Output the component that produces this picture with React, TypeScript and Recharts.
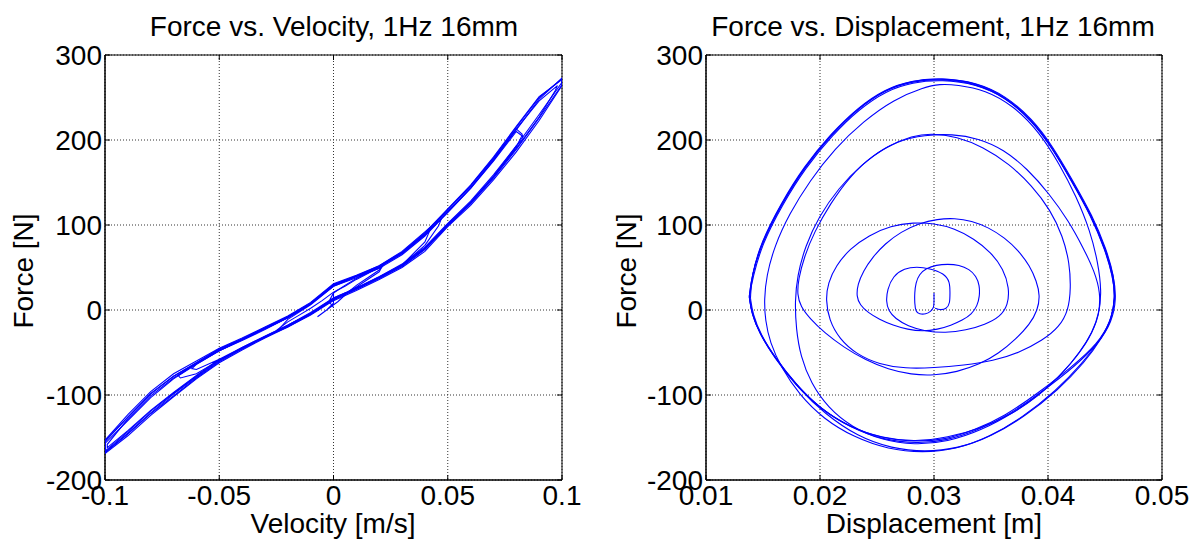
import React from 'react';
import { ScatterChart, Scatter, XAxis, YAxis, CartesianGrid, ReferenceArea } from 'recharts';

type P = [number, number];

// ---------- axes ----------
const VEL_TICKS = [-0.1, -0.05, 0, 0.05, 0.1];
const DISP_TICKS = [0.01, 0.02, 0.03, 0.04, 0.05];
const FORCE_TICKS = [-200, -100, 0, 100, 200, 300];

// ---------- Force vs. Velocity : [velocity m/s, force N] ----------
const FV_RAMP_UP: P[] = [
  [0, 20], [0, 8], [-0.003, 0], [-0.007, -8], [-0.006, -6], [-0.002, 2], [0.002, 10], [0.006, 20], [0.01, 29], [0.015, 38], [0.02, 47], [0.022, 53],
  [0.02, 50], [0.015, 43], [0.01, 36], [0.005, 28], [0, 21], [-0.005, 11], [-0.01, 2], [-0.015, -6], [-0.02, -14], [-0.025, -24],
  [-0.023, -23], [-0.02, -18], [-0.01, -4], [0, 12], [0.01, 25], [0.02, 38], [0.03, 53], [0.04, 76], [0.046, 99], [0.047, 106],
  [0.044, 101], [0.04, 89], [0.03, 67], [0.02, 51], [0.01, 40], [0, 29], [-0.01, 8], [-0.02, -9], [-0.03, -22], [-0.04, -35], [-0.05, -48], [-0.06, -63], [-0.068, -77],
  [-0.067, -80], [-0.06, -75], [-0.05, -59], [-0.04, -45], [-0.03, -32], [-0.02, -19], [-0.01, -5], [0, 13], [0.01, 25], [0.02, 38], [0.03, 52], [0.04, 72], [0.05, 100], [0.06, 126], [0.07, 157], [0.08, 193], [0.083, 201], [0.0825, 207],
  [0.08, 213], [0.07, 178], [0.06, 146], [0.05, 118], [0.04, 90], [0.03, 67], [0.02, 51], [0.01, 40], [0, 30], [-0.01, 8], [-0.02, -8], [-0.03, -21], [-0.04, -34], [-0.05, -46], [-0.06, -62], [-0.07, -78], [-0.08, -98], [-0.09, -126], [-0.1, -155],
];
const FV_STEADY_1: P[] = [
  [-0.1, -155], [-0.1, -168], [-0.09, -146], [-0.08, -122], [-0.07, -101], [-0.06, -80], [-0.05, -61], [-0.04, -46], [-0.03, -32], [-0.02, -19], [-0.01, -5], [0, 12], [0.01, 24], [0.02, 37], [0.03, 51], [0.04, 71], [0.05, 99], [0.06, 125], [0.07, 155], [0.08, 189], [0.09, 226], [0.1, 265],
  [0.1, 272], [0.09, 250], [0.08, 215], [0.07, 179], [0.06, 146], [0.05, 118], [0.04, 89], [0.03, 67], [0.02, 51], [0.01, 40], [0, 30], [-0.01, 8], [-0.02, -8], [-0.03, -21], [-0.04, -34], [-0.05, -46], [-0.06, -62], [-0.07, -78], [-0.08, -99], [-0.09, -126], [-0.1, -154],
];
const FV_STEADY_2: P[] = [
  [-0.1, -154], [-0.1, -166], [-0.09, -143], [-0.08, -119], [-0.07, -98], [-0.06, -78], [-0.05, -59], [-0.04, -44], [-0.03, -31], [-0.02, -18], [-0.01, -3], [0, 14], [0.01, 26], [0.02, 39], [0.03, 54], [0.04, 74], [0.05, 102], [0.06, 128], [0.07, 159], [0.08, 193], [0.09, 230], [0.1, 268],
  [0.1, 273], [0.09, 248], [0.08, 212], [0.07, 176], [0.06, 143], [0.05, 115], [0.04, 87], [0.03, 65], [0.02, 49], [0.01, 38], [0, 28], [-0.01, 7], [-0.02, -9], [-0.03, -23], [-0.04, -36], [-0.05, -48], [-0.06, -64], [-0.07, -81], [-0.08, -103], [-0.09, -130], [-0.1, -157],
];
const FV_STEADY_3: P[] = [
  [-0.1, -157], [-0.1, -169], [-0.09, -148], [-0.08, -124], [-0.07, -102], [-0.06, -81], [-0.05, -62], [-0.04, -47], [-0.03, -33], [-0.02, -20], [-0.01, -6], [0, 11], [0.01, 23], [0.02, 36], [0.03, 50], [0.04, 69], [0.05, 98], [0.06, 123], [0.07, 153], [0.08, 186], [0.09, 223], [0.1, 264],
  [0.1, 271], [0.09, 251], [0.08, 216], [0.07, 180], [0.06, 147], [0.05, 119], [0.04, 91], [0.03, 68], [0.02, 52], [0.01, 41], [0, 31], [-0.01, 9], [-0.02, -7], [-0.03, -20], [-0.04, -33], [-0.05, -45], [-0.06, -60], [-0.07, -75], [-0.08, -96], [-0.09, -123], [-0.1, -153],
];
const FV_RAMP_DOWN: P[] = [
  [-0.1, -153], [-0.1, -167], [-0.09, -145], [-0.08, -121], [-0.07, -99], [-0.06, -79], [-0.05, -60], [-0.04, -45], [-0.03, -32], [-0.02, -19], [-0.01, -4], [0, 13], [0.01, 25], [0.02, 38], [0.03, 52], [0.04, 72], [0.05, 100], [0.06, 126], [0.07, 156], [0.08, 190], [0.09, 227], [0.097, 258], [0.098, 264],
  [0.09, 246], [0.08, 213], [0.07, 177], [0.06, 144], [0.05, 116], [0.04, 88], [0.03, 66], [0.02, 50], [0.01, 39], [0, 29], [-0.01, 7], [-0.02, -9], [-0.03, -22], [-0.04, -35], [-0.05, -47], [-0.06, -63], [-0.07, -80], [-0.08, -101], [-0.09, -128], [-0.099, -158], [-0.099, -162],
  [-0.09, -142], [-0.08, -118], [-0.07, -97], [-0.06, -77], [-0.05, -58], [-0.04, -44], [-0.03, -31], [-0.02, -18], [-0.01, -4], [0, 14], [0.01, 26], [0.02, 39], [0.03, 53], [0.04, 73], [0.05, 101], [0.06, 127], [0.07, 157], [0.08, 192], [0.0825, 205],
  [0.08, 210], [0.07, 175], [0.06, 143], [0.05, 115], [0.04, 88], [0.03, 66], [0.02, 50], [0.01, 39], [0, 28], [-0.01, 7], [-0.02, -9], [-0.03, -22], [-0.04, -35], [-0.05, -48], [-0.06, -64], [-0.062, -69],
  [-0.06, -70], [-0.05, -58], [-0.04, -44], [-0.03, -31], [-0.02, -18], [-0.01, -4], [0, 13], [0.01, 25], [0.02, 38], [0.03, 53], [0.04, 80], [0.043, 99],
  [0.04, 92], [0.03, 69], [0.02, 52], [0.01, 40], [0, 28], [-0.01, 6], [-0.02, -11], [-0.025, -26],
  [-0.02, -20], [-0.01, -5], [0, 12], [0.01, 27], [0.02, 45], [0.021, 50],
  [0.015, 44], [0.01, 37], [0.005, 29], [0, 20], [-0.002, 10], [0, 3],
];

// ---------- Force vs. Displacement : [displacement m, force N] ----------
const FD_RAMP_UP: P[] = [
  [0.0300, 20], [0.0300, 10], [0.0300, 3], [0.0297, -2], [0.0293, -5], [0.0287, -5], [0.0284, -2], [0.0283, 8], [0.0283, 20], [0.0284, 32], [0.0287, 42], [0.0293, 49], [0.0302, 53], [0.0312, 54], [0.0322, 53], [0.0331, 48], [0.0337, 40], [0.0340, 29], [0.0340, 16], [0.0338, 5], [0.0333, -5],
  [0.0325, -12], [0.0315, -18], [0.0303, -23], [0.0290, -25], [0.0277, -23], [0.0264, -18], [0.0252, -11], [0.0242, -3], [0.0235, 6], [0.0232, 16],
  [0.0233, 30], [0.0238, 46], [0.0246, 62], [0.0257, 78], [0.0271, 92], [0.0287, 102], [0.0303, 107], [0.0318, 108], [0.0333, 105], [0.0348, 97], [0.0362, 85], [0.0374, 70], [0.0384, 52], [0.0390, 34], [0.0393, 17], [0.0391, 0],
  [0.0384, -17], [0.0372, -34], [0.0357, -51], [0.0340, -64], [0.0320, -73], [0.0300, -77], [0.0280, -76], [0.0260, -70], [0.0240, -59], [0.0221, -44], [0.0204, -27], [0.0191, -10], [0.0183, 4], [0.0180, 18],
  [0.0181, 36], [0.0186, 62], [0.0195, 92], [0.0209, 125], [0.0226, 157], [0.0246, 182], [0.0268, 199], [0.0292, 206], [0.0316, 207], [0.0339, 202], [0.0361, 189], [0.0382, 166], [0.0401, 137], [0.0418, 105], [0.0431, 73], [0.0441, 45], [0.0446, 20], [0.0445, -4],
  [0.0439, -26], [0.0428, -50], [0.0412, -76], [0.0392, -101], [0.0368, -123], [0.0340, -140], [0.0312, -150], [0.0284, -155], [0.0255, -151], [0.0226, -138], [0.0200, -116], [0.0178, -88], [0.0160, -56], [0.0147, -28], [0.0140, -4], [0.0138, 16],
];
const FD_STEADY_1: P[] = [
  [0.0138, 16], [0.0140, 39], [0.0148, 78], [0.0166, 125], [0.0186, 168], [0.0210, 207], [0.0233, 237], [0.0257, 259], [0.0280, 269], [0.0306, 272], [0.0336, 267], [0.0362, 251], [0.0385, 224], [0.0403, 192], [0.0420, 153], [0.0438, 110], [0.0450, 71], [0.0457, 39], [0.0459, 14],
  [0.0455, -14], [0.0444, -39], [0.0421, -67], [0.0391, -98], [0.0362, -125], [0.0336, -141], [0.0309, -153], [0.0283, -155], [0.0254, -151], [0.0225, -137], [0.0198, -114], [0.0178, -86], [0.0160, -55], [0.0147, -28], [0.0140, -4], [0.0138, 16],
];
const FD_STEADY_2: P[] = [
  [0.0138, 16], [0.0140, 40], [0.0149, 79], [0.0167, 126], [0.0187, 169], [0.0211, 208], [0.0234, 238], [0.0258, 260], [0.0281, 270], [0.0307, 273], [0.0337, 268], [0.0363, 252], [0.0386, 225], [0.0404, 193], [0.0421, 154], [0.0439, 111], [0.0451, 72], [0.0458, 40], [0.0459, 14],
  [0.0456, -10], [0.0448, -32], [0.0432, -62], [0.0409, -94], [0.0380, -125], [0.0350, -149], [0.0321, -163], [0.0292, -167], [0.0263, -163], [0.0233, -149], [0.0204, -122], [0.0181, -92], [0.0162, -59], [0.0148, -30], [0.0140, -5], [0.0138, 15],
];
const FD_STEADY_3: P[] = [
  [0.0138, 15], [0.0141, 38], [0.0149, 77], [0.0167, 124], [0.0187, 167], [0.0211, 206], [0.0234, 236], [0.0258, 258], [0.0281, 268], [0.0307, 271], [0.0337, 266], [0.0363, 250], [0.0386, 223], [0.0404, 191], [0.0421, 152], [0.0439, 109], [0.0451, 70], [0.0458, 38], [0.0460, 13],
  [0.0456, -14], [0.0445, -38], [0.0424, -66], [0.0394, -97], [0.0365, -124], [0.0338, -142], [0.0310, -154], [0.0285, -157], [0.0256, -153], [0.0227, -139], [0.0200, -116], [0.0179, -88], [0.0161, -57], [0.0148, -29], [0.0141, -5], [0.0139, 14],
];
const FD_RAMP_DOWN: P[] = [
  [0.0139, 14], [0.0140, 40], [0.0148, 79], [0.0166, 126], [0.0186, 169], [0.0210, 208], [0.0233, 238], [0.0257, 260], [0.0280, 270], [0.0306, 273], [0.0336, 268], [0.0362, 252], [0.0385, 225], [0.0403, 193], [0.0420, 154], [0.0438, 111], [0.0450, 72], [0.0457, 40], [0.0459, 14],
  [0.0456, -10], [0.0447, -33], [0.0430, -63], [0.0407, -95], [0.0378, -126], [0.0348, -150], [0.0319, -164], [0.0290, -168], [0.0260, -164], [0.0230, -150], [0.0203, -128], [0.0182, -100], [0.0166, -68], [0.0156, -38], [0.0152, -12], [0.0151, 12],
  [0.0153, 40], [0.0160, 75], [0.0173, 113], [0.0191, 152], [0.0213, 190], [0.0238, 222], [0.0265, 248], [0.0291, 262], [0.0305, 266], [0.0320, 265], [0.0345, 259], [0.0370, 240], [0.0392, 210], [0.0410, 172], [0.0425, 133], [0.0437, 93], [0.0444, 55], [0.0447, 22], [0.0445, -6],
  [0.0437, -33], [0.0420, -64], [0.0398, -94], [0.0370, -121], [0.0341, -142], [0.0312, -155], [0.0283, -159], [0.0254, -153], [0.0228, -138], [0.0207, -115], [0.0192, -86], [0.0183, -55], [0.0179, -22], [0.0178, 10],
  [0.0180, 40], [0.0187, 75], [0.0199, 110], [0.0216, 143], [0.0237, 172], [0.0259, 193], [0.0281, 205], [0.0298, 208], [0.0320, 204], [0.0343, 192], [0.0366, 172], [0.0386, 146], [0.0402, 118], [0.0413, 87], [0.0419, 55], [0.0420, 25], [0.0418, 0],
  [0.0410, -20], [0.0395, -36], [0.0375, -50], [0.0352, -60], [0.0326, -65], [0.0300, -68], [0.0275, -69], [0.0252, -64], [0.0232, -52], [0.0217, -34], [0.0208, -12], [0.0205, 12],
  [0.0207, 32], [0.0214, 52], [0.0226, 72], [0.0243, 88], [0.0262, 99], [0.0282, 103], [0.0300, 102], [0.0318, 96], [0.0335, 84], [0.0350, 68], [0.0361, 48], [0.0366, 26], [0.0365, 6],
  [0.0358, -8], [0.0345, -17], [0.0328, -24], [0.0310, -27], [0.0292, -25], [0.0277, -19], [0.0266, -10], [0.0260, -1], [0.0258, 10],
  [0.0259, 24], [0.0264, 40], [0.0274, 49], [0.0285, 51], [0.0296, 49], [0.0309, 43], [0.0314, 33], [0.0314, 20], [0.0314, 8], [0.0311, 1], [0.0305, 0], [0.0301, 2],
];

// ---------- styling ----------
const FONT = '"Liberation Sans", Arial, Helvetica, sans-serif';
const BLUE = '#0000ff';
const FS = 28;
const CHART_H = 543;
const PLOT_TOP = 55;
const PLOT_RIGHT = 562; // chart-local
const TICK_LEN = 5;

const toPts = (arr: P[]) => arr.map(([x, y]) => ({ x, y }));
const NoShape = () => <g />;

const makeXTick = () => (props: any) => {
  const { x, y, payload } = props;
  return (
    <g>
      <line x1={x} y1={y} x2={x} y2={y - TICK_LEN} stroke="#000" strokeWidth={1} />
      <line x1={x} y1={PLOT_TOP} x2={x} y2={PLOT_TOP + TICK_LEN} stroke="#000" strokeWidth={1} />
      <text x={x} y={y + 25} textAnchor="middle" fontSize={FS} fontFamily={FONT} fill="#000">
        {String(payload.value)}
      </text>
    </g>
  );
};

const makeYTick = () => (props: any) => {
  const { x, y, payload } = props;
  return (
    <g>
      <line x1={x} y1={y} x2={x + TICK_LEN} y2={y} stroke="#000" strokeWidth={1} />
      <line x1={PLOT_RIGHT} y1={y} x2={PLOT_RIGHT - TICK_LEN} y2={y} stroke="#000" strokeWidth={1} />
      <text x={x - 3} y={y + 10} textAnchor="end" fontSize={FS} fontFamily={FONT} fill="#000">
        {String(payload.value)}
      </text>
    </g>
  );
};

interface PlotProps {
  width: number;
  marginLeft: number;
  marginRight: number;
  xTicks: number[];
  xDomain: [number, number];
  series: P[][];
  joint: any;
}

function Plot({ width, marginLeft, marginRight, xTicks, xDomain, series, joint }: PlotProps) {
  return (
    <ScatterChart
      width={width}
      height={CHART_H}
      margin={{ top: PLOT_TOP, right: marginRight, bottom: 33, left: marginLeft }}
    >
      <CartesianGrid stroke="#333" strokeDasharray="1 2" strokeWidth={1} />
      <XAxis
        type="number"
        dataKey="x"
        domain={xDomain}
        ticks={xTicks}
        interval={0}
        allowDataOverflow
        height={30}
        tickLine={false}
        tickSize={0}
        tickMargin={0}
        axisLine={{ stroke: '#000' }}
        tick={makeXTick()}
      />
      <YAxis
        type="number"
        dataKey="y"
        domain={[-200, 300]}
        ticks={FORCE_TICKS}
        interval={0}
        allowDataOverflow
        width={60}
        tickLine={false}
        tickSize={0}
        tickMargin={0}
        axisLine={{ stroke: '#000' }}
        tick={makeYTick()}
      />
      {series.map((s, i) => (
        <Scatter
          key={i}
          data={toPts(s)}
          fill={BLUE}
          line={{ stroke: BLUE, strokeWidth: 1.1 }}
          lineJointType={joint}
          shape={NoShape}
          isAnimationActive={false}
        />
      ))}
      <ReferenceArea
        x1={xDomain[0]}
        x2={xDomain[1]}
        y1={-200}
        y2={300}
        fill="none"
        fillOpacity={0}
        stroke="#000"
        strokeWidth={1}
        ifOverflow="visible"
      />
    </ScatterChart>
  );
}

export default function App() {
  const textStyle = { fontFamily: FONT, fontSize: FS, fill: '#000' } as const;
  return (
    <div style={{ position: 'absolute', left: 0, top: 0, width: 1195, height: 543, background: '#fff' }}>
      <div style={{ position: 'absolute', left: 0, top: 0 }}>
        <Plot
          width={600}
          marginLeft={45}
          marginRight={38}
          xTicks={VEL_TICKS}
          xDomain={[-0.1, 0.1]}
          series={[FV_RAMP_UP, FV_STEADY_1, FV_STEADY_2, FV_STEADY_3, FV_RAMP_DOWN]}
          joint="linear"
        />
      </div>
      <div style={{ position: 'absolute', left: 600, top: 0 }}>
        <Plot
          width={595}
          marginLeft={46}
          marginRight={33}
          xTicks={DISP_TICKS}
          xDomain={[0.01, 0.05]}
          series={[FD_RAMP_UP, FD_STEADY_1, FD_STEADY_2, FD_STEADY_3, FD_RAMP_DOWN]}
          joint="basis"
        />
      </div>
      <svg
        width={1195}
        height={543}
        style={{ position: 'absolute', left: 0, top: 0, pointerEvents: 'none' }}
      >
        <text x={334} y={36} textAnchor="middle" style={textStyle}>Force vs. Velocity, 1Hz 16mm</text>
        <text x={933} y={36} textAnchor="middle" style={textStyle}>Force vs. Displacement, 1Hz 16mm</text>
        <text x={333} y={533} textAnchor="middle" style={textStyle}>Velocity [m/s]</text>
        <text x={934} y={533} textAnchor="middle" style={textStyle}>Displacement [m]</text>
        <text x={33} y={271} textAnchor="middle" transform="rotate(-90 33 271)" style={textStyle}>Force [N]</text>
        <text x={636} y={271} textAnchor="middle" transform="rotate(-90 636 271)" style={textStyle}>Force [N]</text>
      </svg>
    </div>
  );
}
